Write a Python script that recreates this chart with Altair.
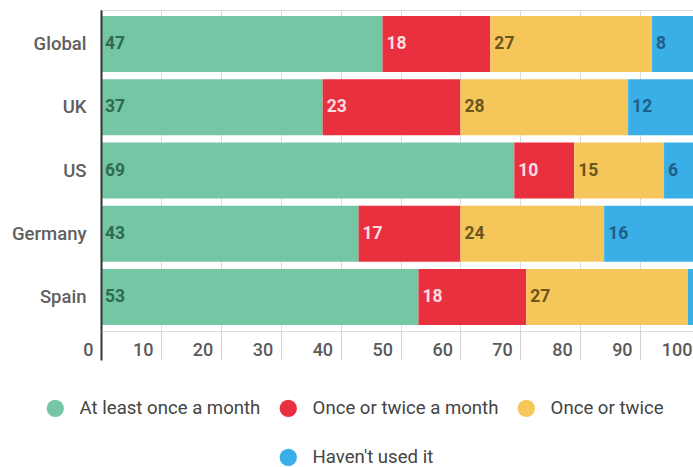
import altair as alt
import pandas as pd

countries = ["Global", "UK", "US", "Germany", "Spain"]
categories = ["At least once a month", "Once or twice a month", "Once or twice", "Haven't used it"]
at_least_once_a_month = [47, 37, 69, 43, 53]
once_or_twice_a_month = [18, 23, 10, 17, 18]
once_or_twice = [27, 28, 15, 24, 27]
havent_used_it = [8, 12, 6, 16, 2]
x_ticks = [0, 10, 20, 30, 40, 50, 60, 70, 80, 90, 100]

bar_colors = ["#74c6a4", "#e8303f", "#f5c75a", "#3aaee6"]
text_colors = ["#2f6a50", "#f9dde0", "#6b5620", "#1e5f88"]

series = [at_least_once_a_month, once_or_twice_a_month, once_or_twice, havent_used_it]
rows = []
for ci, (cat, vals) in enumerate(zip(categories, series)):
    for country, v in zip(countries, vals):
        rows.append({"country": country, "cat": cat, "order": ci, "value": v})
df = pd.DataFrame(rows)

FONT = "Roboto"

base = alt.Chart(df).transform_stack(
    stack="value",
    groupby=["country"],
    as_=["x0", "x1"],
    sort=[alt.SortField("order", order="ascending")],
)

x_scale = alt.Scale(domain=[0, 100], range=[0, 599], nice=False)
y_enc = alt.Y(
    "country:N",
    sort=countries,
    scale=alt.Scale(paddingInner=0.115, paddingOuter=0.095),
    axis=alt.Axis(
        title=None, ticks=False, domain=True, domainColor="#333333", domainWidth=2,
        labelFont=FONT, labelFontSize=18.5, labelFontWeight=500, labelColor="#606060",
        labelPadding=15, zindex=1,
    ),
)

bars = base.mark_bar().encode(
    x=alt.X(
        "x0:Q",
        scale=x_scale,
        axis=alt.Axis(
            title=None, values=x_ticks, grid=True, domain=False,
            gridColor={"condition": {"test": "datum.value == 0", "value": "#333333"}, "value": "#dcdcdc"},
            tickSize=29,
            tickColor={"condition": {"test": "datum.value == 0", "value": "#333333"}, "value": "#d2d2d2"},
            tickWidth={"condition": {"test": "datum.value == 0", "value": 2}, "value": 1},
            labelAlign="right", labelOffset=-8, labelPadding=-10, labelBaseline="middle",
            labelFont=FONT, labelFontSize=18, labelFontWeight=500, labelColor="#5a5a5a",
            zindex=0,
        ),
    ),
    x2="x1:Q",
    y=y_enc,
    fill=alt.Fill(
        "cat:N",
        scale=alt.Scale(domain=categories, range=bar_colors),
        legend=alt.Legend(
            title=None, orient="none", legendX=-55, legendY=389, direction="horizontal",
            values=categories[:3], symbolType="circle", symbolSize=300, symbolStrokeWidth=0,
            labelFont=FONT, labelFontSize=18.6, labelColor="#444444", labelOffset=15,
            labelLimit=400, columnPadding=18, padding=0,
        ),
    ),
)

labels = base.transform_filter("datum.value > 3").mark_text(
    align="left", baseline="middle", dx=4, font=FONT, fontSize=17.5, fontWeight="bold"
).encode(
    x=alt.X("x0:Q", scale=x_scale),
    y=alt.Y("country:N", sort=countries),
    text=alt.Text("value:Q"),
    color=alt.Color("cat:N", scale=alt.Scale(domain=categories, range=text_colors), legend=None),
)

legend2 = base.transform_filter("datum.value < 0").mark_point(
    filled=True, color=bar_colors[3], opacity=1
).encode(
    x=alt.X("x0:Q", scale=x_scale),
    y=alt.Y("country:N", sort=countries),
    shape=alt.Shape(
        "cat:N",
        scale=alt.Scale(domain=[categories[3]], range=["circle"]),
        legend=alt.Legend(
            title=None, orient="none", legendX=178, legendY=438, direction="horizontal",
            symbolSize=300, symbolStrokeWidth=0, symbolFillColor=bar_colors[3],
            labelFont=FONT, labelFontSize=18.6, labelColor="#444444", labelOffset=15,
            labelLimit=400, padding=0,
        ),
    ),
)

chart = alt.layer(bars, labels, legend2).resolve_scale(color="independent").properties(
    width=592,
    height=321,
    autosize=alt.AutoSizeParams(type="none"),
    padding={"left": 101, "top": 10, "right": 0, "bottom": 136},
).configure_view(stroke=None).configure(background="white")

chart.save("out.html", embed_options={"renderer": "svg", "actions": False})
